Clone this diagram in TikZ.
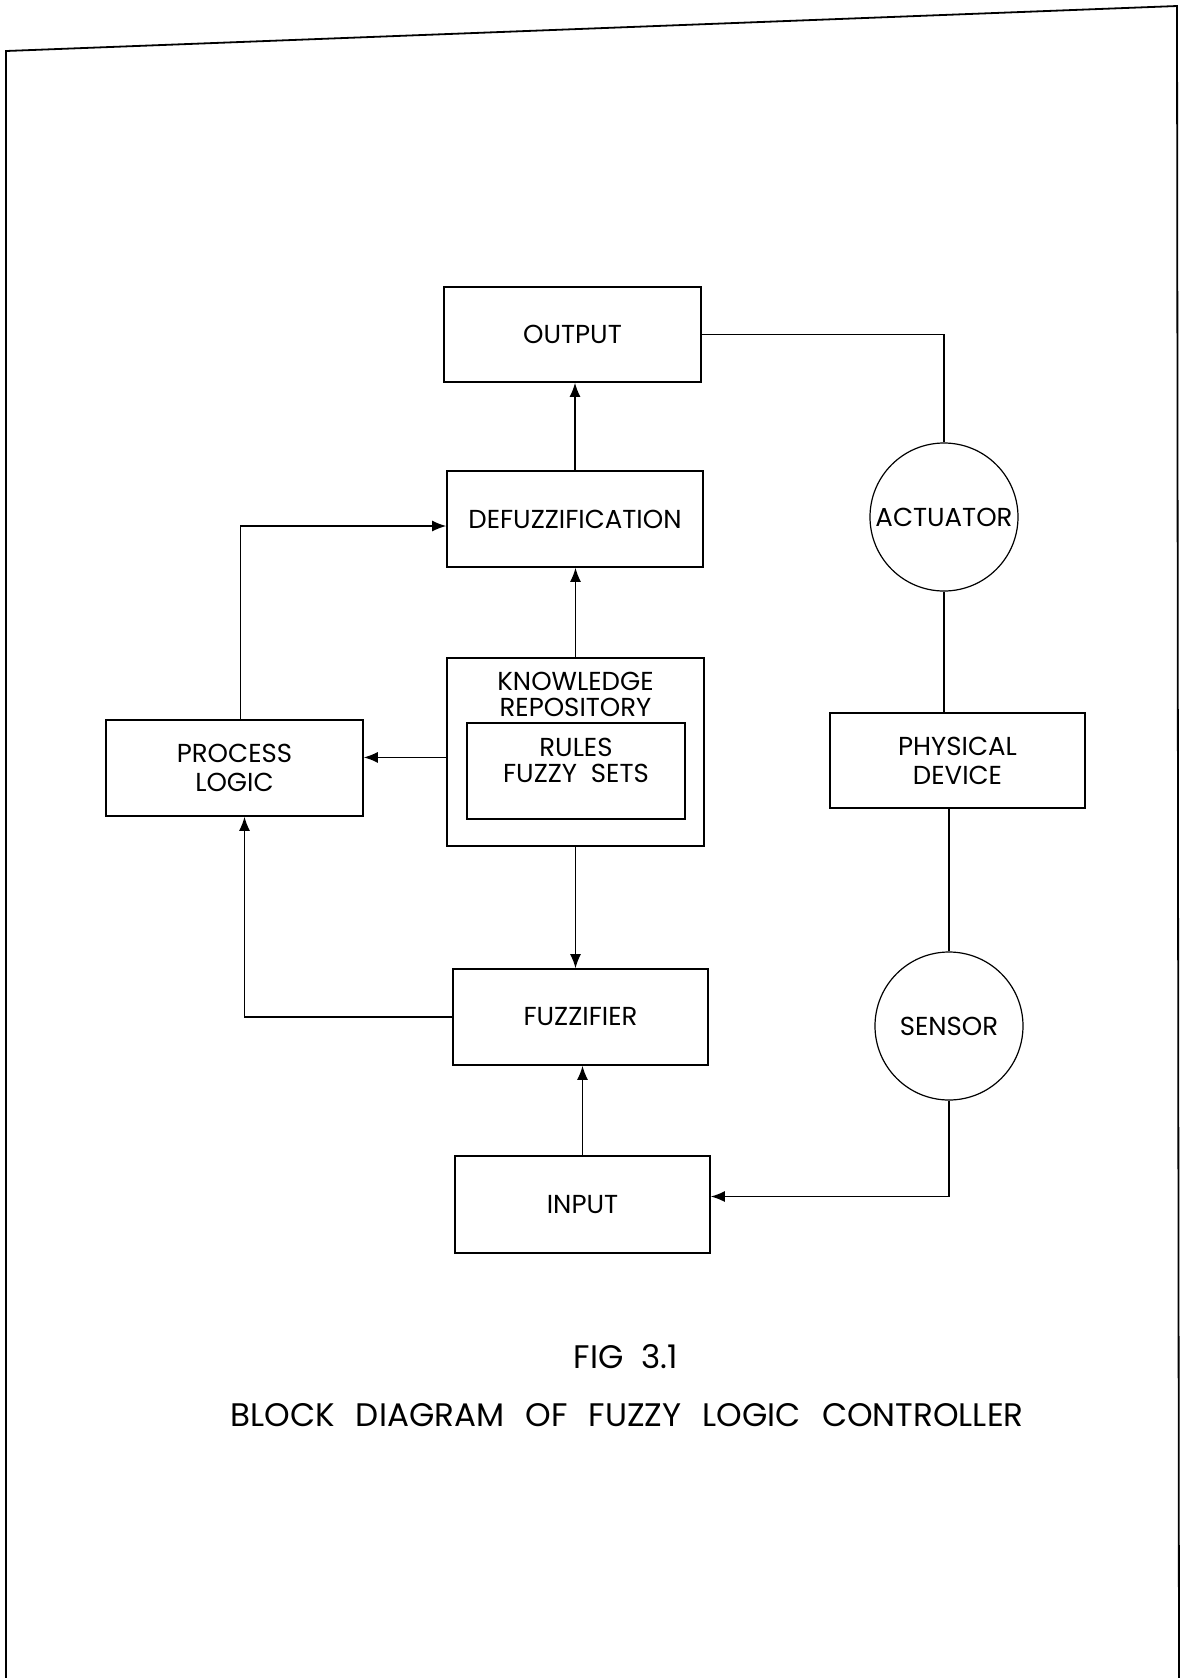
\documentclass[tikz,border=0pt]{standalone}
\usepackage{fontspec}
\setmainfont{Poppins}
\usetikzlibrary{arrows.meta}
\begin{document}
\begin{tikzpicture}[x=0.5pt,y=-0.5pt,
  box/.style={draw, line width=0.8pt, rectangle, align=center, font=\fontsize{13}{14.5}\selectfont, inner sep=0pt},
  ring/.style={draw, line width=0.6pt, circle, inner sep=0pt, minimum size=74pt, font=\fontsize{13}{14.5}\selectfont},
  conn/.style={line width=0.7pt},
  arr/.style={conn, -{Latex[length=7pt,width=5.5pt]}}]
\useasboundingbox (0,0) rectangle (1183,1678);
\fill[white] (0,0) rectangle (1183,1678);
% page frame
\draw[line width=0.9pt] (6,1678) -- (6,51) -- (1177,6) -- (1179,1678);
% blocks
\node[box, minimum width=128.5pt, minimum height=47.5pt] (out) at (572.5,334.5) {OUTPUT};
\node[box, minimum width=128pt, minimum height=48pt] (def) at (575,519) {DEFUZZIFICATION};
\node[box, minimum width=128.5pt, minimum height=94pt] (kr) at (575.5,752) {};
\node[font=\fontsize{13}{13}\selectfont, align=center] (krt) at (575.5,694) {KNOWLEDGE\\REPOSITORY};
\node[box, minimum width=109pt, minimum height=48pt, line width=0.7pt] (rules) at (576,771) {};
\node[font=\fontsize{13}{13}\selectfont, align=center] (rt) at (576,760) {RULES\\FUZZY\ \ SETS};
\node[box, minimum width=128.5pt, minimum height=48pt] (pl) at (234.5,768) {PROCESS\\LOGIC};
\node[box, minimum width=127.5pt, minimum height=48pt] (fuz) at (580.5,1017) {FUZZIFIER};
\node[box, minimum width=127.5pt, minimum height=48.5pt] (inp) at (582.5,1204.5) {INPUT};
\node[box, minimum width=127.5pt, minimum height=47.5pt] (pd) at (957.5,760.5) {PHYSICAL\\DEVICE};
\node[ring] (act) at (944,517) {ACTUATOR};
\node[ring] (sen) at (949,1026) {SENSOR};
% connectors
\draw[conn] (out.east) -- (out.east -| act.north) -- (act.north);
\draw[conn] (act.south) -- (act.south |- pd.north);
\draw[conn] (pd.south -| sen.north) -- (sen.north);
\draw[arr] (sen.south) |- ([yshift=4pt]inp.east);
\draw[arr] (inp.north) -- (inp.north |- fuz.south);
\draw[arr] (kr.south) -- (kr.south |- fuz.north);
\draw[arr] (kr.north) -- (kr.north |- def.south);
\draw[arr] (def.north) -- (def.north |- out.south);
\draw[arr] ([yshift=-2.7pt]kr.west) -- ([yshift=-2.7pt]kr.west -| pl.east);
\draw[arr] ([xshift=3pt]pl.north) |- ([yshift=-3.5pt]def.west);
\draw[arr] (fuz.west) -| ([xshift=5pt]pl.south);
% caption
\node[font=\fontsize{16.3}{18}\selectfont] (fig) at (626,1357) {FIG\hspace{0.55em}3.1};
\node[font=\fontsize{16.3}{18}\selectfont] (cap) at (627,1415) {BLOCK\hspace{0.65em}DIAGRAM\hspace{0.65em}OF\hspace{0.65em}FUZZY\hspace{0.65em}LOGIC\hspace{0.65em}CONTROLLER};
\end{tikzpicture}
\end{document}
